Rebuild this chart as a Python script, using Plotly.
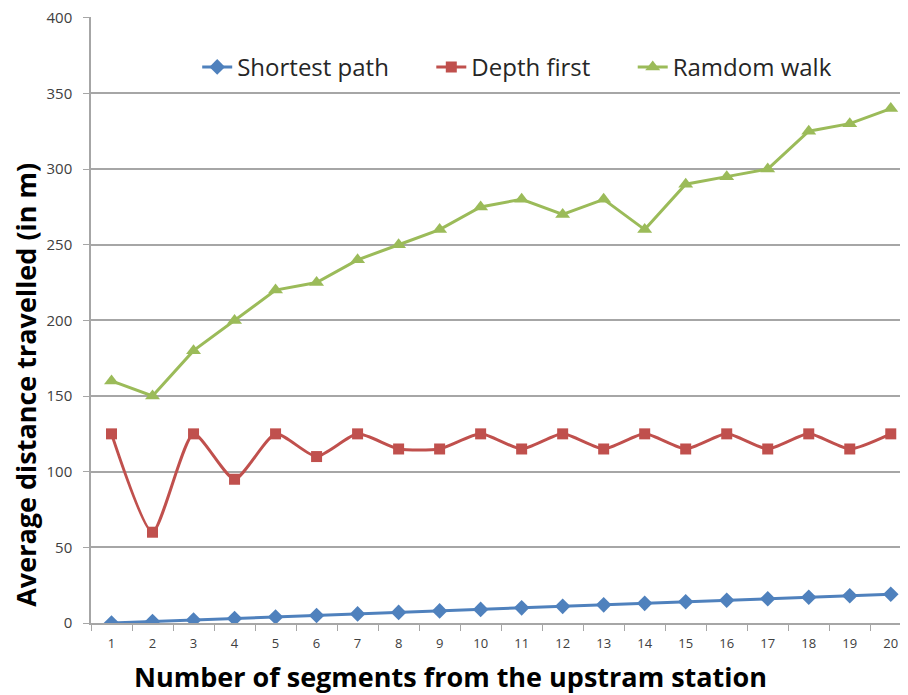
import plotly.graph_objects as go

segments = [str(i) for i in range(1, 21)]
shortest_path = [0, 1, 2, 3, 4, 5, 6, 7, 8, 9, 10, 11, 12, 13, 14, 15, 16, 17, 18, 19]
depth_first = [125, 60, 125, 95, 125, 110, 125, 115, 115, 125,
               115, 125, 115, 125, 115, 125, 115, 125, 115, 125]
random_walk = [160, 150, 180, 200, 220, 225, 240, 250, 260, 275,
               280, 270, 280, 260, 290, 295, 300, 325, 330, 340]

BLUE = "#4F81BD"
RED = "#C0504D"
GREEN = "#9BBB59"
GRID = "#A6A6A6"
FONT = "Open Sans, sans-serif"
PAD = "\u00a0" * 6  # extra room after each legend label

fig = go.Figure()
fig.add_trace(go.Scatter(
    x=segments, y=shortest_path, name="Shortest path" + PAD, mode="lines+markers",
    line=dict(color=BLUE, width=3),
    marker=dict(symbol="diamond", size=12, color=BLUE)))
fig.add_trace(go.Scatter(
    x=segments, y=depth_first, name="Depth first" + PAD, mode="lines+markers",
    line=dict(color=RED, width=3, shape="spline", smoothing=0.6),
    marker=dict(symbol="square", size=11, color=RED)))
fig.add_trace(go.Scatter(
    x=segments, y=random_walk, name="Ramdom walk", mode="lines+markers",
    line=dict(color=GREEN, width=3),
    marker=dict(symbol="triangle-up", size=13, color=GREEN)))

fig.update_layout(
    width=908, height=695,
    plot_bgcolor="white", paper_bgcolor="white",
    margin=dict(l=83, r=8, t=9, b=80),
    font=dict(family=FONT, color="#404040"),
    legend=dict(orientation="h", x=0.13, y=0.917, xanchor="left", yanchor="middle",
                font=dict(size=24, color="#262626"), bgcolor="rgba(0,0,0,0)"),
    annotations=[
        dict(text="<b>Number of segments from the upstram station</b>",
             xref="paper", yref="paper", x=0.4406, y=-0.0875,
             xanchor="center", yanchor="middle", showarrow=False,
             font=dict(size=27, color="#000000")),
        dict(text="<b>Average distance travelled (in m)</b>",
             xref="paper", yref="paper", x=-0.0796, y=0.393, textangle=-90,
             xanchor="center", yanchor="middle", showarrow=False,
             font=dict(size=27, color="#000000")),
    ],
)
fig.update_xaxes(
    type="category", range=[-0.5, 19.42], automargin=False,
    showgrid=False, showline=True, linecolor=GRID, linewidth=1.5,
    ticks="outside", tickson="boundaries", ticklen=6, tickcolor=GRID,
    ticklabelstandoff=8,
    tickfont=dict(size=13, color="#404040"),
)
fig.update_yaxes(
    range=[0, 400.5], tickvals=[0, 50, 100, 150, 200, 250, 300, 350, 400],
    automargin=False,
    showgrid=True, gridcolor=GRID, gridwidth=1.5,
    showline=True, linecolor=GRID, linewidth=1.5, zeroline=False,
    ticks="outside", ticklen=6, tickcolor=GRID,
    ticklabelstandoff=8, ticklabeloverflow="allow",
    tickfont=dict(size=15, color="#404040"),
)

fig.write_html("out.html")
